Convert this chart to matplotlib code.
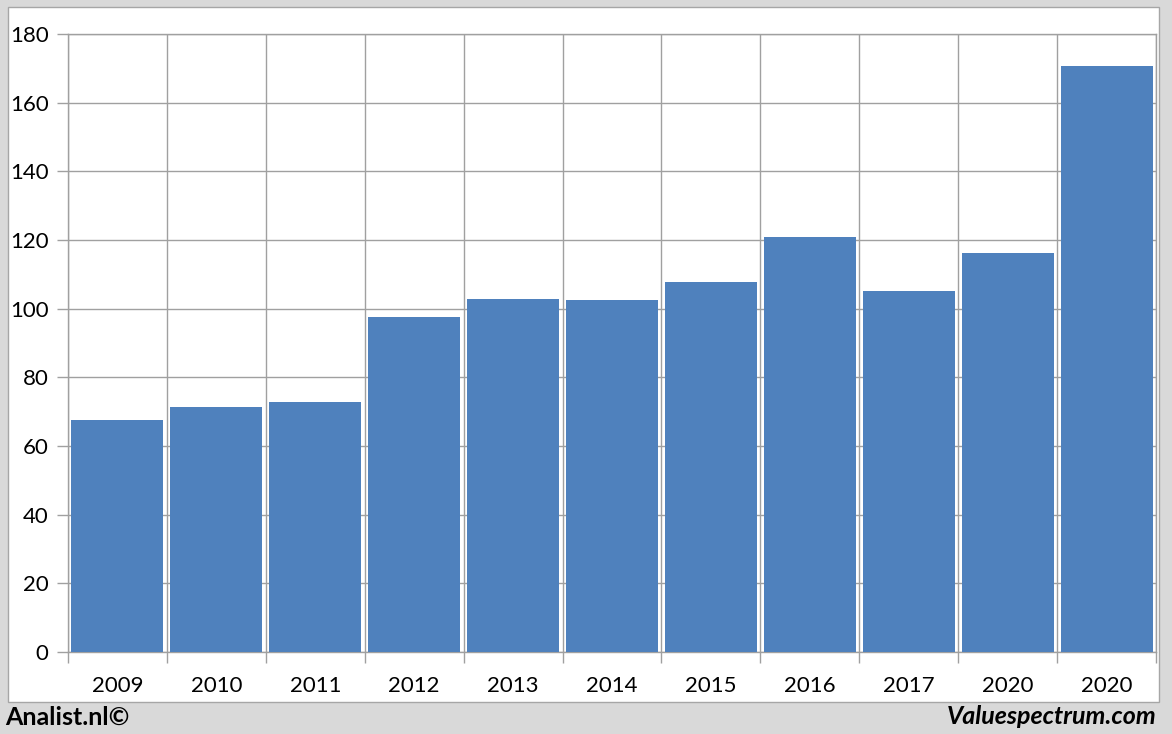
import numpy as np
import matplotlib.pyplot as plt
from matplotlib.patches import Rectangle

# Data
years = ['2009', '2010', '2011', '2012', '2013', '2014', '2015', '2016', '2017', '2020', '2020']
values = [67.6, 71.4, 72.8, 97.6, 102.8, 102.5, 107.8, 120.9, 105.2, 116.2, 170.7]
yticks = [0, 20, 40, 60, 80, 100, 120, 140, 160, 180]

plt.rcParams['font.family'] = ['Lato', 'DejaVu Sans']

fig = plt.figure(figsize=(11.72, 7.34), dpi=100)
fig.patch.set_facecolor('#d9d9d9')

# white chart panel
W, H = 1172, 734
fig.patches.append(Rectangle((8 / W, 1 - 702 / H), (1159 - 8) / W, (702 - 7) / H,
                             transform=fig.transFigure, facecolor='white',
                             edgecolor='#a6a6a6', linewidth=1.0, zorder=-5))

ax = fig.add_axes([68 / W, 1 - 652 / H, (1156 - 68) / W, (652 - 34) / H])
ax.set_zorder(2)
ax.set_facecolor('white')

x = np.arange(len(values))
ax.bar(x, values, width=0.93, color='#4f81bd', zorder=3)

ax.set_xlim(-0.5, len(values) - 0.5)
ax.set_ylim(0, 180)
ax.set_yticks(yticks)
ax.set_yticklabels([str(v) for v in yticks], fontsize=16)

# category labels centred, ticks at category boundaries
ax.set_xticks(x)
ax.set_xticklabels(years, fontsize=16)
ax.tick_params(axis='x', length=0, pad=17)
ax.set_xticks(np.arange(-0.5, len(values)), minor=True)
ax.tick_params(axis='x', which='minor', length=8, color='#a0a0a0', width=1)
ax.tick_params(axis='y', length=8, color='#a0a0a0', width=1, pad=6)

ax.grid(True, axis='y', color='#a0a0a0', linewidth=1, zorder=1)
ax.grid(True, axis='x', which='minor', color='#a0a0a0', linewidth=1, zorder=1)
ax.grid(False, axis='x', which='major')
ax.set_axisbelow(True)

for s in ax.spines.values():
    s.set_color('#a0a0a0')
    s.set_linewidth(1)

fig.text(5 / W, 1 - 717 / H, 'Analist.nl©', fontsize=18, fontweight='bold',
         va='center', ha='left')
fig.text(1157 / W, 1 - 717 / H, 'Valuespectrum.com', fontsize=18, fontweight='bold',
         fontstyle='italic', va='center', ha='right')

fig.savefig('out.png', dpi=100, facecolor=fig.get_facecolor())
